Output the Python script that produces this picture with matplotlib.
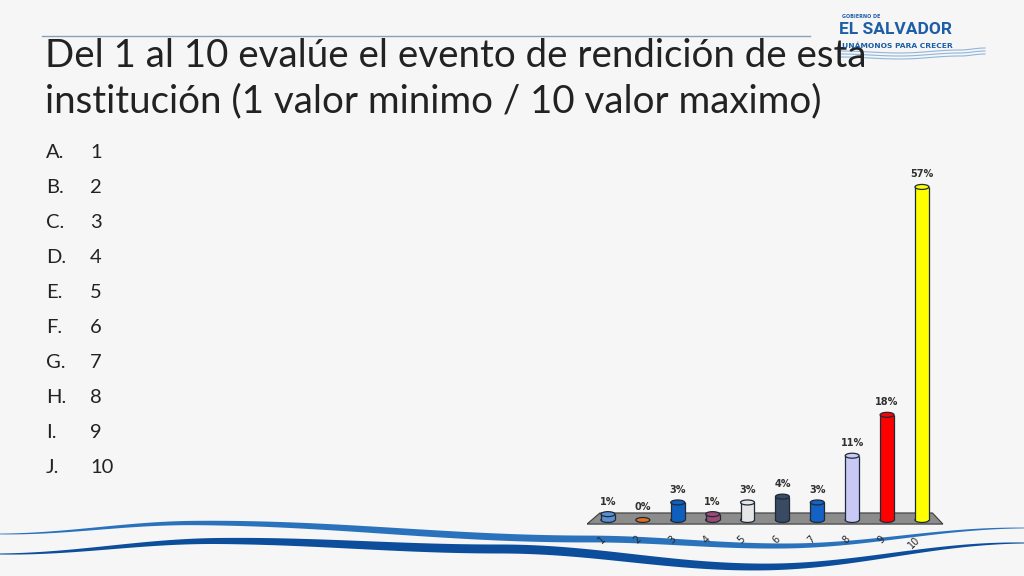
import numpy as np
import matplotlib
matplotlib.use("Agg")
import matplotlib.pyplot as plt
from matplotlib.patches import Ellipse, Polygon

# data
categories = ["1", "2", "3", "4", "5", "6", "7", "8", "9", "10"]
values = [1, 0, 3, 1, 3, 4, 3, 11, 18, 57]
value_labels = ["1%", "0%", "3%", "1%", "3%", "4%", "3%", "11%", "18%", "57%"]
bar_colors = ["#5a8fd2", "#e0701e", "#0f5fbf", "#9c4a74", "#e6e6e6",
              "#394a62", "#1462c4", "#c9c9f5", "#ff0000", "#ffff00"]
options = ["A.", "B.", "C.", "D.", "E.", "F.", "G.", "H.", "I.", "J."]
option_vals = ["1", "2", "3", "4", "5", "6", "7", "8", "9", "10"]

title1 = "Del 1 al 10 evalúe el evento de rendición de esta"
title2 = "institución (1 valor minimo / 10 valor maximo)"

W, H = 1024, 576
fig = plt.figure(figsize=(W / 100, H / 100), dpi=100)
fig.patch.set_facecolor("#f6f6f6")

# background axes in pixel coordinates for slide decoration
bg = fig.add_axes([0, 0, 1, 1], zorder=0)
bg.set_xlim(0, W)
bg.set_ylim(H, 0)
bg.axis("off")


def wave(xs, ys, n=400):
    x = np.linspace(xs[0], xs[-1], n)
    y = np.zeros_like(x)
    for i in range(len(xs) - 1):
        m = (x >= xs[i]) & (x <= xs[i + 1])
        t = (x[m] - xs[i]) / (xs[i + 1] - xs[i])
        s = (1 - np.cos(np.pi * t)) / 2
        y[m] = ys[i] + (ys[i + 1] - ys[i]) * s
    return x, y


x1, c1 = wave([0, 196, 588, 780, 1024], [534, 523, 539, 546, 528])
t1 = 3.5 * np.sin(np.pi * (x1 + 40) / (W + 80))
bg.fill_between(x1, c1 - t1, c1 + t1, color="#2b72bd", lw=0)
x2, c2 = wave([0, 220, 500, 760, 1024], [554, 541, 549, 567, 543])
t2 = 4.5 * np.sin(np.pi * (x2 + 40) / (W + 80))
bg.fill_between(x2, c2 - t2, c2 + t2, color="#0c4e9c", lw=0)

# title rule and title
bg.plot([42, 810], [36, 36], color="#8aa0b4", lw=1)
tfont = dict(family="Lato", color="#222222", fontsize=27.7)
bg.text(45, 67, title1, va="baseline", **tfont)
bg.text(45, 112, title2, va="baseline", **tfont)

# option list
for i, (o, v) in enumerate(zip(options, option_vals)):
    y = 152 + i * 35.1
    bg.text(46, y, o, va="center", family="Lato", fontsize=14.5, color="#222222")
    bg.text(90, y, v, va="center", family="Lato", fontsize=14.5, color="#222222")

# logo
bg.text(842, 17, "GOBIERNO DE", fontsize=3.5, color="#1d5ea6", va="center",
        weight="bold", family="DejaVu Sans")
bg.text(839, 34, "EL SALVADOR", fontsize=12.5, color="#1d5ea6", va="baseline",
        family="Roboto", weight="bold")
bg.text(842, 45.5, "UNÁMONOS PARA CRECER", fontsize=5.4, color="#1d5ea6",
        va="center", weight="bold", family="DejaVu Sans")
for k, dy in enumerate([51, 54, 57]):
    xx, yy = wave([840, 900, 960, 985], [dy, dy + 2, dy - 1, dy - 3], 100)
    bg.plot(xx, yy, color="#8fb6dc", lw=0.8)

# chart axes
left, right = 587, 945
bottom, top = 526, 170
ax = fig.add_axes([left / W, (H - bottom) / H, (right - left) / W, (bottom - top) / H],
                  zorder=2)
ax.set_facecolor("none")
ax.set_xlim(0.40, 10.66)
ax.set_ylim(-1.03, 59.9)
for s in ax.spines.values():
    s.set_visible(False)

x = np.arange(1, len(values) + 1)
floor = Polygon([[0.40, -0.7], [10.6, -0.7], [10.3, 1.2], [0.77, 1.2]],
                closed=True, facecolor="#8c8c8c", edgecolor="#3a3a3a", lw=0.8,
                zorder=1)
ax.add_patch(floor)

bw = 0.4
eh = 0.85
ax.bar(x, values, width=bw, color=bar_colors, edgecolor="none", zorder=3)
for xi, v, c, lab in zip(x, values, bar_colors, value_labels):
    ax.add_patch(Ellipse((xi, 0), bw, eh, facecolor=c, edgecolor="#1f2a38",
                         lw=0.9, zorder=2.9))
    if v > 0:
        ax.vlines([xi - bw / 2, xi + bw / 2], 0, v, color="#1f2a38", lw=0.9,
                  zorder=3.1)
        ax.add_patch(Ellipse((xi, v), bw, eh, facecolor=c, edgecolor="#1f2a38",
                             lw=0.9, zorder=3.2))
    ax.text(xi, v + 1.3, lab, ha="center", va="bottom", fontsize=7,
            weight="bold", color="#303030", zorder=4)

ax.set_xticks(x)
ax.set_xticklabels(categories, rotation=45, ha="right", fontsize=7,
                   color="#262626")
ax.tick_params(axis="x", length=0, pad=6)
ax.set_yticks([])

fig.savefig("out.png", dpi=100, facecolor=fig.get_facecolor())
